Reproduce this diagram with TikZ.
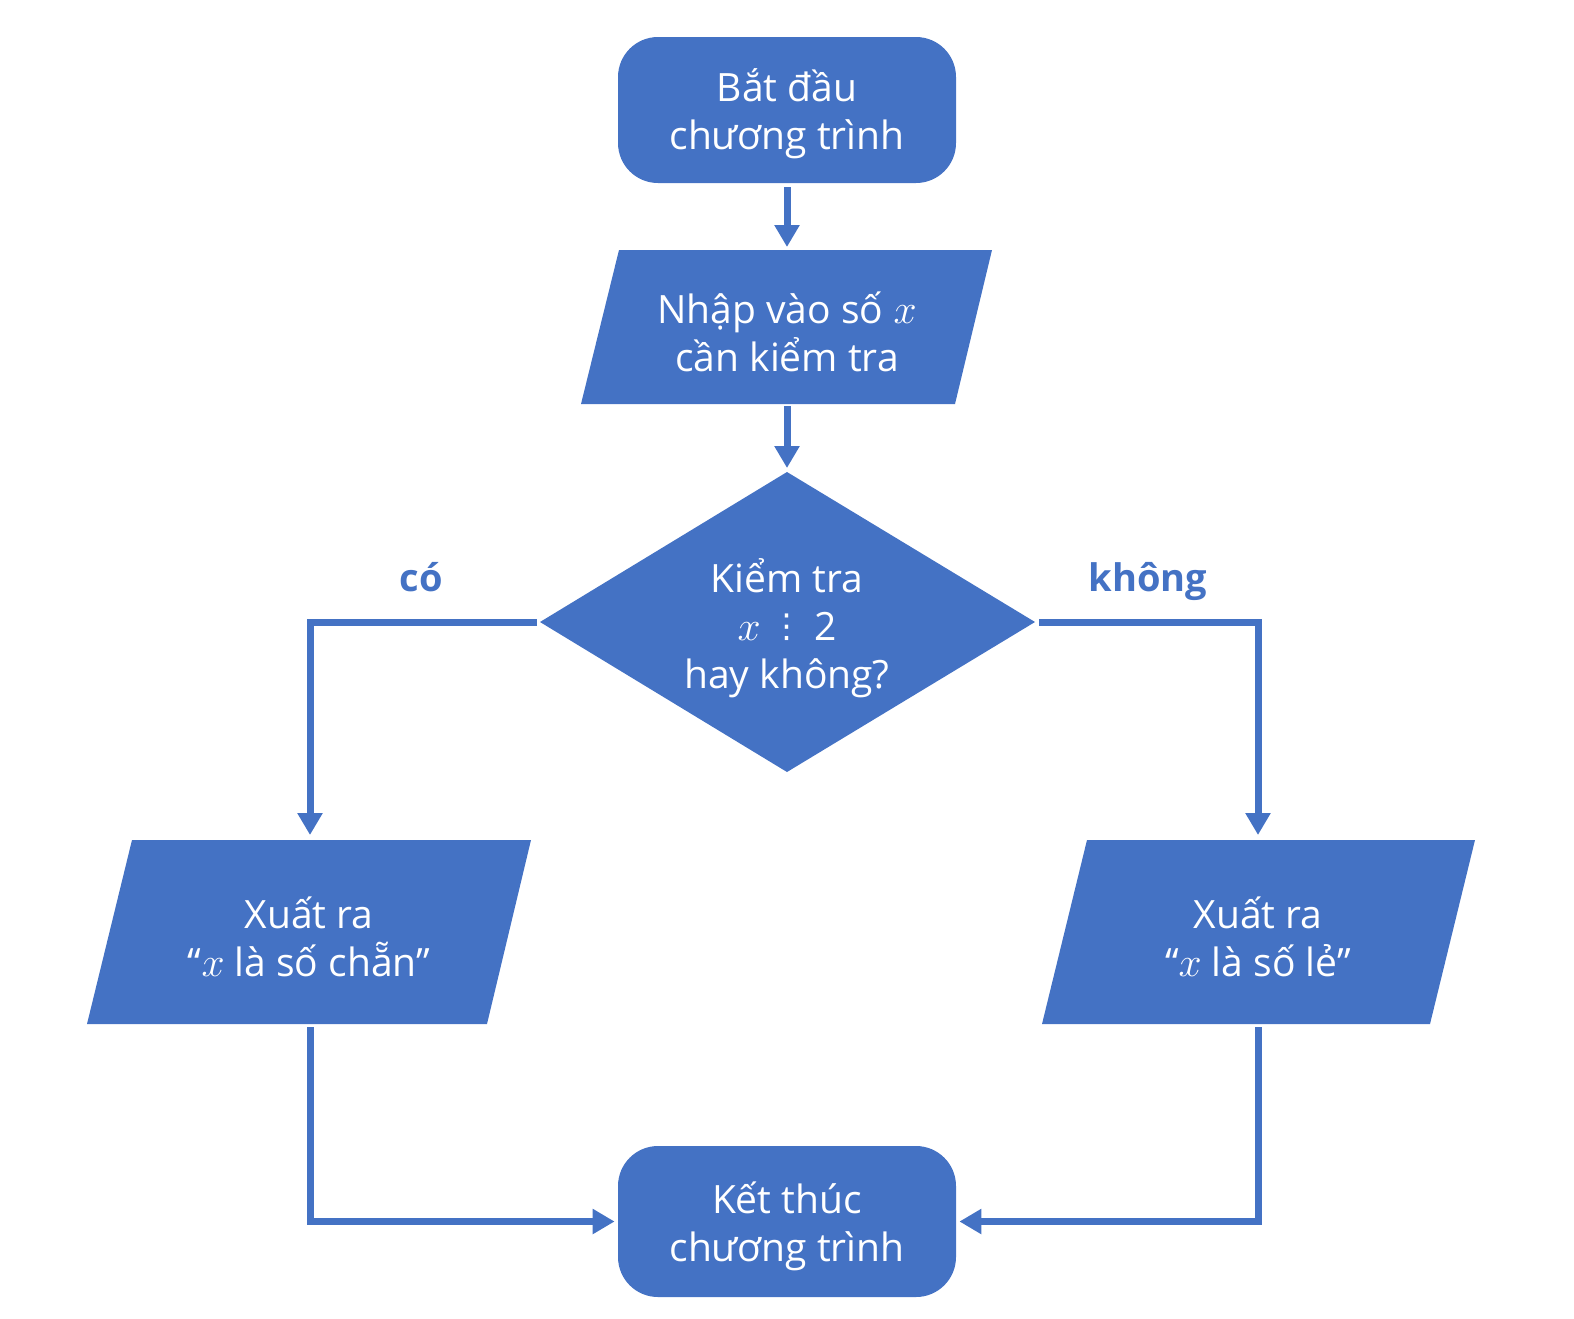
\documentclass[tikz,border=0pt]{standalone}
\usepackage{fontspec}
\setmainfont{Open Sans}
\newfontfamily\symfont{DejaVu Sans}
\usetikzlibrary{arrows.meta}
\definecolor{flow}{HTML}{4472C4}
% variable x, a little larger than the surrounding text
\newcommand{\vx}{{\fontsize{22}{24}\selectfont$x$}}
% divisibility sign
\newcommand{\divby}{\raisebox{1.5pt}{\symfont\fontsize{16.5}{18}\selectfont ⋮}}
\begin{document}
\begin{tikzpicture}[x=0.5pt,y=-0.5pt,
  txt/.style={text=white, align=center, inner sep=0pt, font=\fontsize{19.5}{24}\selectfont},
  term/.style={fill=flow, rounded corners=20pt, minimum width=169pt, minimum height=73pt},
  shapefill/.style={fill=flow},
  link/.style={draw=flow, line width=3.5pt, -{Triangle[length=11pt,width=12pt]}},
  lbl/.style={text=flow, inner sep=0pt, anchor=base, font=\bfseries\fontsize{19}{22}\selectfont}]
\useasboundingbox (0,0) rectangle (1574,1318);

% terminals
\node[term] (start) at (787,110) {};
\node[txt] (startText) at (787,114) {Bắt đầu\\chương trình};
\node[term, minimum height=75.5pt] (stop) at (787,1221.5) {};
\node[txt] (stopText) at (787,1226) {Kết thúc\\chương trình};

% input parallelogram
\coordinate (inTop) at (787,250);
\coordinate (inBot) at (787,404);
\fill[shapefill] (619,250) -- (992,250) -- (955,404) -- (581,404) -- cycle;
\node[txt] (input) at (787,332) {Nhập vào số \vx\\cần kiểm tra};

% decision diamond
\coordinate (dTop) at (787,472);
\coordinate (dRight) at (1035,622);
\coordinate (dBot) at (787,772);
\coordinate (dLeft) at (540,622);
\fill[shapefill] (dTop) -- (dRight) -- (dBot) -- (dLeft) -- cycle;
\node[txt] (check) at (787,628) {Kiểm tra\\\vx\ \divby\ 2\\hay không?};

% output parallelograms
\coordinate (evenTop) at (310,840);
\coordinate (evenBot) at (310,1024);
\fill[shapefill] (132,840) -- (531,840) -- (487,1024) -- (87,1024) -- cycle;
\node[txt] (even) at (309,937) {Xuất ra\\“\vx\ là số chẵn”};

\coordinate (oddTop) at (1258,840);
\coordinate (oddBot) at (1258,1024);
\fill[shapefill] (1087,840) -- (1475,840) -- (1430,1024) -- (1042,1024) -- cycle;
\node[txt] (odd) at (1258,937) {Xuất ra\\“\vx\ là số lẻ”};

% branch labels
\node[lbl] (yes) at (421,591) {có};
\node[lbl] (no) at (1148,591) {không};

% connectors
\draw[link, shorten <=2pt, shorten >=1.5pt] (start.south) -- (inTop);
\draw[link, shorten <=1pt, shorten >=2pt] (inBot) -- (dTop);
\draw[link, shorten <=1.5pt, shorten >=2.5pt] (dLeft) -| (evenTop);
\draw[link, shorten <=2pt, shorten >=2.5pt] (dRight) -| (oddTop);
\draw[link, shorten <=1.5pt, shorten >=1.5pt] (evenBot) |- (stop.west);
\draw[link, shorten <=1.5pt, shorten >=1.5pt] (oddBot) |- (stop.east);
\end{tikzpicture}
\end{document}
